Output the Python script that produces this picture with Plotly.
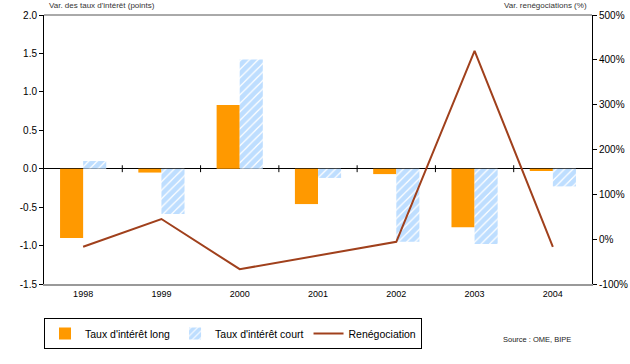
import plotly.graph_objects as go

years = ["1998", "1999", "2000", "2001", "2002", "2003", "2004"]
taux_long = [-0.90, -0.05, 0.83, -0.46, -0.07, -0.76, -0.03]
taux_court = [0.10, -0.59, 1.42, -0.12, -0.95, -0.98, -0.23]
renego = [-17, 45, -67, -37, -6, 420, -17]

left_ticks = [-1.5, -1.0, -0.5, 0.0, 0.5, 1.0, 1.5, 2.0]
left_ticktext = ["-1.5", "-1.0", "-0.5", "0.0", "0.5", "1.0", "1.5", "2.0"]
right_ticks = [-100, 0, 100, 200, 300, 400, 500]
right_ticktext = ["-100%", "0%", "100%", "200%", "300%", "400%", "500%"]

FONT = "Liberation Sans, Arial, sans-serif"

fig = go.Figure()
fig.add_trace(go.Bar(x=years, y=taux_long, name="Taux d'intérêt long",
                     marker=dict(color="#FF9900", line=dict(width=0))))
fig.add_trace(go.Bar(x=years, y=taux_court, name="Taux d'intérêt court",
                     marker=dict(color="white", line=dict(width=0),
                                 pattern=dict(shape="/", fgcolor="#7DBDFF",
                                              bgcolor="white", size=6, solidity=0.8))))
fig.add_trace(go.Scatter(x=years, y=renego, name="Renégociation", yaxis="y2",
                         mode="lines", line=dict(color="#A0401C", width=2)))

# category separator ticks on the zero line
for i in range(len(years) - 1):
    fig.add_shape(type="line", xref="x", yref="y", x0=i + 0.5, x1=i + 0.5,
                  y0=-0.045, y1=0.045, line=dict(color="black", width=1))
# top border
fig.add_shape(type="line", xref="paper", yref="paper", x0=0, x1=1, y0=1, y1=1,
              line=dict(color="#555555", width=1))

fig.update_layout(
    width=630, height=364,
    margin=dict(l=44, r=38, t=15, b=80, autoexpand=False),
    paper_bgcolor="white", plot_bgcolor="white",
    font=dict(family=FONT, size=10, color="black"),
    barmode="group", bargap=0.41, bargroupgap=0,
    showlegend=True,
    legend=dict(orientation="h", xref="container", yref="container",
                x=44 / 630, y=1 - 318 / 364, xanchor="left", yanchor="top",
                bordercolor="black", borderwidth=1, bgcolor="white",
                font=dict(size=10.5, family=FONT), itemwidth=30,
                tracegroupgap=0, traceorder="normal"),
    xaxis=dict(type="category", showline=True, linecolor="#999999", linewidth=2,
               ticks="", tickfont=dict(size=9), showgrid=False, zeroline=False),
    yaxis=dict(range=[-1.5, 2.0], tickvals=left_ticks, ticktext=left_ticktext,
               showline=True, linecolor="black", linewidth=1, ticks="outside",
               ticklen=4, tickcolor="black", showgrid=False,
               zeroline=True, zerolinecolor="black", zerolinewidth=1,
               tickfont=dict(size=10)),
    yaxis2=dict(range=[-100, 500], tickvals=right_ticks, ticktext=right_ticktext,
                overlaying="y", side="right", showline=True, linecolor="black",
                linewidth=1, ticks="outside", ticklen=4, tickcolor="black",
                showgrid=False, zeroline=False, tickfont=dict(size=10)),
    annotations=[
        dict(text="Var. des taux d'intérêt (points)", xref="paper", yref="paper",
             x=0.005, y=1.0, yshift=3, xanchor="left", yanchor="bottom",
             showarrow=False, font=dict(size=8, color="#333333")),
        dict(text="Var. renégociations (%)", xref="paper", yref="paper",
             x=0.995, y=1.0, yshift=3, xanchor="right", yanchor="bottom",
             showarrow=False, font=dict(size=8, color="#333333")),
        dict(text="Source : OME, BIPE", xref="paper", yref="paper",
             x=0.965, y=-0.2045, xanchor="right", yanchor="middle",
             showarrow=False, font=dict(size=7.5, color="#222222")),
    ],
)

fig.write_html("out.html", config={"displayModeBar": False},
               post_script="document.body.style.margin='0';document.body.style.overflow='hidden';")
